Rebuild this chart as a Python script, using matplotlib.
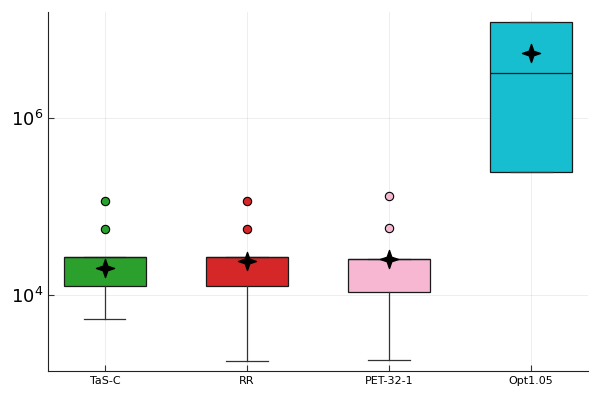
import matplotlib
matplotlib.use("Agg")
import matplotlib.pyplot as plt
from matplotlib.path import Path
import numpy as np

# box statistics (log-scale y)
labels = ["TaS-C", "RR", "PET-32-1", "Opt1.05"]
colors = ["#2ca02c", "#d62728", "#f7b6d2", "#17becf"]
q1 = [12600, 12600, 10800, 243000]
median = [26800, 26800, 25200, 3.17e6]
q3 = [26800, 26800, 25200, 1.19e7]
whislo = [5370, 1800, 1850, 243000]
whishi = [26800, 26800, 25200, 1.19e7]
means = [20000, 24200, 25600, 5.28e6]
outliers = [[55900, 113700], [55900, 113700], [57300, 129000], []]

positions = [1, 2, 3, 4]

# four-point star like the Julia :star4 marker
ang = np.arange(8) * np.pi / 4 + np.pi / 2
rad = np.where(np.arange(8) % 2 == 0, 1.0, 0.36)
verts = np.column_stack([rad * np.cos(ang), rad * np.sin(ang)])
verts = np.vstack([verts, verts[:1]])
star4 = Path(verts, closed=True)

fig = plt.figure(figsize=(6, 4), dpi=100)
ax = fig.add_axes([0.08, 0.0725, 0.90, 0.8975])
ax.set_yscale("log")

stats = []
for i in range(len(labels)):
    stats.append(dict(label=labels[i], q1=q1[i], med=median[i], q3=q3[i],
                      whislo=whislo[i], whishi=whishi[i], fliers=[]))

bp = ax.bxp(stats, positions=positions, widths=0.575, capwidths=0.29,
            patch_artist=True, showfliers=False, zorder=2,
            boxprops=dict(linewidth=0.9, edgecolor="#1a1a1a"),
            medianprops=dict(color="#1a1a1a", linewidth=0.9),
            whiskerprops=dict(color="#333333", linewidth=0.9),
            capprops=dict(color="#333333", linewidth=0.9))
for patch, c in zip(bp["boxes"], colors):
    patch.set_facecolor(c)

for i in range(len(labels)):
    if outliers[i]:
        ax.plot([positions[i]] * len(outliers[i]), outliers[i], "o",
                color=colors[i], markeredgecolor="black", markersize=6,
                markeredgewidth=0.8, zorder=3)
    ax.plot(positions[i], means[i], marker=star4, color="black",
            markersize=13, linestyle="none", zorder=4)

ax.set_xlim(0.6, 4.4)
ax.set_ylim(1393, 1.545e7)
ax.set_xticks(positions)
ax.set_xticklabels(labels, fontsize=8)
ax.set_yticks([1e4, 1e6])
ax.yaxis.set_minor_locator(matplotlib.ticker.NullLocator())
ax.tick_params(axis="y", labelsize=13)
ax.tick_params(direction="in", length=4, color="#333333")

ax.grid(True, color="black", alpha=0.08, linewidth=0.6, zorder=0)
ax.set_axisbelow(True)
for s in ["top", "right"]:
    ax.spines[s].set_visible(False)
for s in ["left", "bottom"]:
    ax.spines[s].set_color("#222222")

fig.savefig("out.png", dpi=100)
